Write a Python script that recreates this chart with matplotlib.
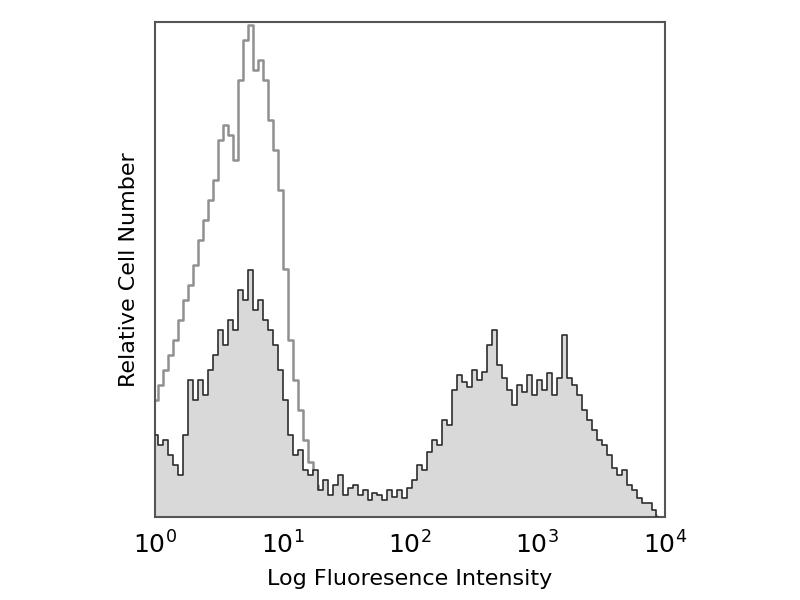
import numpy as np
import matplotlib
matplotlib.use('Agg')
import matplotlib.pyplot as plt

# histogram channels: evenly spaced in log10 intensity (0 .. ~3.92 decades)
nChannels = 101
logChannels = np.linspace(0., 3.92, nChannels)

# isotype control (open gray curve), relative cell number 0-100
isotype = [23.6, 26.7, 29.7, 32.7, 35.8, 39.8, 43.8, 46.9, 50.9, 55.9,
           60.0, 64.0, 68.1, 76.2, 79.2, 77.2, 72.1, 88.3, 96.4, 99.4,
           90.3, 92.3, 88.3, 80.2, 74.1, 66.1, 50.1, 35.8, 27.7, 21.6,
           15.6, 11.1, 6.5, 3.8, 2.8, 2.0, 2.4, 1.4, 1.2, 1.0,
           1.0, 1.0, 1.0, 1.0, 1.0, 1.0, 1.0, 1.0, 1.0, 1.0,
           1.0, 1.0, 1.0, 1.0, 1.0, 1.0, 1.0, 1.0, 1.0, 1.0,
           1.0, 1.0, 1.0, 1.0, 1.0, 1.0, 1.0, 1.0, 1.0, 1.0,
           1.0, 1.0, 1.0, 1.0, 1.0, 1.0, 1.0, 1.0, 1.0, 1.0,
           1.0, 1.0, 1.0, 1.0, 1.0, 1.0, 1.0, 1.0, 1.0, 1.0,
           1.0, 1.0, 1.0, 1.0, 1.0, 1.0, 1.0, 1.0, 1.0, 1.0,
           0.5]

# stained sample (filled histogram)
stained = [16.6, 14.5, 15.6, 12.5, 10.5, 8.5, 16.6, 27.7, 23.6, 27.7,
           24.6, 29.7, 32.7, 37.8, 34.7, 39.8, 37.8, 45.9, 43.8, 49.9,
           41.8, 43.8, 39.8, 37.8, 34.7, 29.7, 23.6, 16.6, 12.5, 13.5,
           9.5, 8.5, 9.5, 5.5, 7.5, 4.4, 6.5, 8.5, 4.4, 5.9,
           6.5, 4.4, 5.5, 3.4, 4.8, 4.4, 3.4, 5.5, 4.0, 5.5,
           3.8, 5.9, 7.5, 10.5, 9.5, 13.1, 15.6, 14.5, 19.6, 18.6,
           25.7, 28.7, 27.3, 26.3, 29.7, 27.7, 29.3, 34.7, 37.8, 30.7,
           28.1, 25.7, 22.6, 26.7, 25.3, 28.7, 24.6, 27.7, 25.7, 29.1,
           24.6, 28.1, 36.8, 28.1, 26.7, 24.6, 21.6, 19.6, 17.6, 15.6,
           14.5, 12.5, 9.9, 8.5, 9.5, 6.5, 5.5, 3.8, 2.8, 2.8,
           1.4]

xTicks = [1, 10, 100, 1000, 10000]
xTickLabels = [r'$10^0$', r'$10^1$', r'$10^2$', r'$10^3$', r'$10^4$']

x = 10 ** logChannels
# close the filled histogram at the last channel
xEnd = 10 ** (logChannels[-1] + 0.025)
xs = np.append(x, xEnd)
ys = np.append(stained, 0.)
yi = np.append(isotype, 0.)

fig = plt.figure(figsize=(8, 6), dpi=100)
ax = fig.add_axes([0.194, 0.138, 0.637, 0.825])

ax.step(xs, yi, where='mid', color='#909090', lw=1.8, zorder=1)
ax.fill_between(xs, ys, step='mid', color='#d9d9d9', lw=0, zorder=2)
ax.step(xs, ys, where='mid', color='#2e2e2e', lw=1.2, zorder=3)

ax.set_xscale('log')
ax.set_xlim(1, 10000)
ax.set_ylim(0, 100)
ax.set_xticks(xTicks)
ax.set_xticklabels(xTickLabels, fontsize=18)
ax.minorticks_off()
ax.set_yticks([])
ax.tick_params(axis='x', length=0, pad=10)
for s in ax.spines.values():
    s.set_color('#555555')
    s.set_linewidth(1.5)

ax.set_xlabel('Log Fluoresence Intensity', fontsize=16, labelpad=8)
ax.set_ylabel('Relative Cell Number', fontsize=16, labelpad=12)

fig.savefig('out.png', dpi=100)
